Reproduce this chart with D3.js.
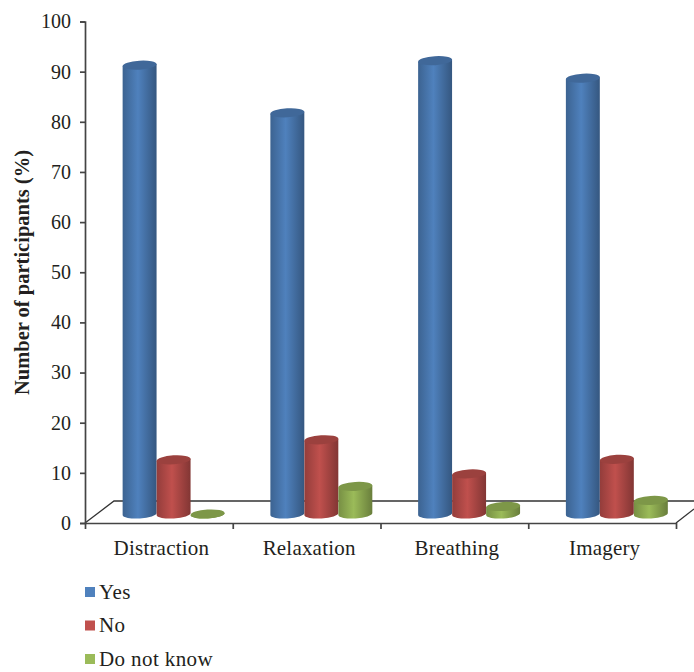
<!DOCTYPE html>
<html>
<head>
<meta charset="utf-8">
<script src="https://cdn.jsdelivr.net/npm/d3@7"></script>
<style>
  html, body { margin:0; padding:0; background:#fff; }
  svg { display:block; }
  text { font-family:"Liberation Serif", serif; fill:#231f20; }
  .axis path, .axis line { stroke:#444; stroke-width:1.7; }
  .axis text { font-family:"Liberation Serif", serif; fill:#231f20; }
</style>
</head>
<body>
<svg id="chart" width="694" height="672"></svg>
<script>
const categories = ["Distraction", "Relaxation", "Breathing", "Imagery"];
const seriesNames = ["Yes", "No", "Do not know"];
const yes = [89.5, 80, 90.4, 86.9];
const no = [10.8, 14.8, 8, 10.9];
const dontKnow = [0, 5.5, 1.5, 2.7];
const seriesValues = [yes, no, dontKnow];
const yTicks = [0, 10, 20, 30, 40, 50, 60, 70, 80, 90, 100];
const seriesColors = ["#4f81bd", "#c0504d", "#9bbb59"];

const svg = d3.select("#chart");
const x0 = d3.scaleBand().domain(categories).range([85, 676]);
const x1 = d3.scaleBand().domain(seriesNames).range([0, 102]);
const xEdge = d3.scaleLinear().domain([0, categories.length]).range([85, 676]);
const y = d3.scaleLinear().domain([0, 100]).range([523, 21.5]);

const BAR_SHIFT = 37.6, BASE_UP = 9, RY = 4.5, TILT = -3.5;
const FLOOR_BACK = 501, FLOOR_LEFT = 114;

// gradients for cylinder sides
const defs = svg.append("defs");
seriesColors.forEach((c, i) => {
  const g = defs.append("linearGradient").attr("id", `cyl${i}`);
  g.append("stop").attr("offset", "0%").attr("stop-color", d3.color(c).darker(0.75));
  g.append("stop").attr("offset", "45%").attr("stop-color", c);
  g.append("stop").attr("offset", "100%").attr("stop-color", d3.color(c).darker(1.1));
});

// floor
svg.append("path").attr("fill", "none").attr("stroke", "#333").attr("stroke-width", 1.3)
  .attr("d", `M${xEdge(0)} ${y(0)} L${FLOOR_LEFT} ${FLOOR_BACK} H694`);
svg.append("path").attr("fill", "none").attr("stroke", "#333").attr("stroke-width", 1.3)
  .attr("d", `M${xEdge(4)} ${y(0)} L694 509`);

// axes
const yAxis = svg.append("g").attr("class", "axis").attr("transform", "translate(85,0)")
  .call(d3.axisLeft(y).tickValues(yTicks).tickSize(5).tickSizeOuter(5).tickPadding(9));
yAxis.selectAll("text").style("font-size", "20px");

svg.append("g").attr("class", "axis").attr("transform", `translate(0,${y(0)})`)
  .call(d3.axisBottom(xEdge).tickValues(d3.range(categories.length + 1)).tickSize(6).tickSizeOuter(0).tickFormat(""));
svg.append("g").selectAll("text").data(categories).join("text")
  .attr("x", d => x0(d) + x0.bandwidth()/2 + 2.5).attr("y", 555).attr("text-anchor", "middle")
  .style("font-size", "21px").style("letter-spacing", "0.2px").text(d => d);

svg.append("text").attr("transform", "translate(29,272.5) rotate(-90)").attr("text-anchor", "middle")
  .style("font-size", "20.5px").style("font-weight", "bold").text("Number of participants (%)");

// cylinders
const cylinder = (cx, top, base, rx) => {
  const a = TILT*Math.PI/180, dx = rx*Math.cos(a), dy = rx*Math.sin(a);
  return {
    body: `M${cx-dx} ${top-dy} L${cx-dx} ${base-dy} A${rx} ${RY} ${TILT} 0 0 ${cx+dx} ${base+dy} L${cx+dx} ${top+dy} Z`,
    cap: `M${cx-dx} ${top-dy} A${rx} ${RY} ${TILT} 1 1 ${cx+dx} ${top+dy} A${rx} ${RY} ${TILT} 1 1 ${cx-dx} ${top-dy} Z`
  };
};
const barData = categories.flatMap((c, ci) => seriesNames.map((s, si) => ({c, s, si, v:seriesValues[si][ci]})));
const bars = svg.append("g").selectAll("g").data(barData).join("g");
const geom = d => cylinder(x0(d.c)+BAR_SHIFT+x1(d.s)+x1.bandwidth()/2, y(d.v)-BASE_UP, y(0)-BASE_UP, x1.bandwidth()/2);
bars.append("path").attr("d", d => geom(d).body).attr("fill", d => `url(#cyl${d.si})`);
bars.append("path").attr("d", d => geom(d).cap).attr("fill", d => d3.color(seriesColors[d.si]).darker(0.6));

// legend
const legend = d3.scalePoint().domain(seriesNames).range([592, 659]);
const items = svg.append("g").selectAll("g").data(seriesNames).join("g")
  .attr("transform", d => `translate(85,${legend(d)})`);
items.append("rect").attr("y", -5).attr("width", 10).attr("height", 10).attr("fill", (d, i) => seriesColors[i]);
items.append("text").attr("x", 14).attr("y", 6.5).style("font-size", "21px").style("letter-spacing", "0.4px").text(d => d);
</script>
</body>
</html>
